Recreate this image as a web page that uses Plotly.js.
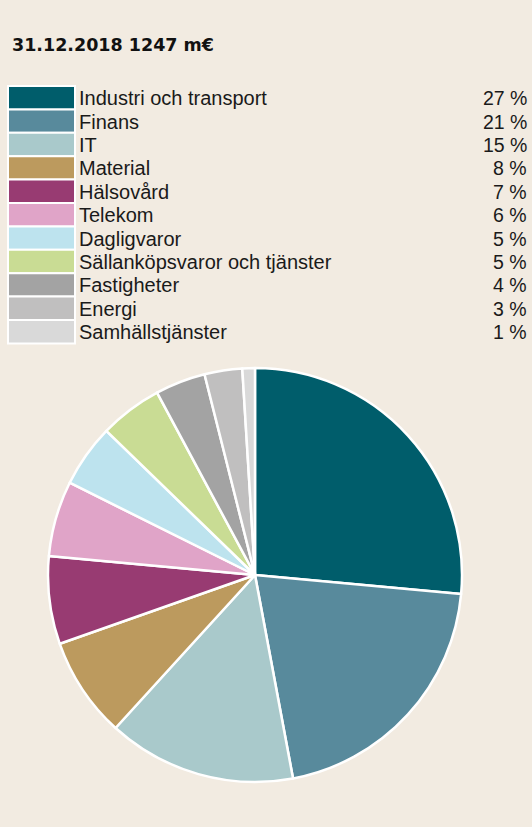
<!DOCTYPE html>
<html>
<head>
<meta charset="utf-8">
<script src="https://cdn.plot.ly/plotly-3.0.1.min.js"></script>
<style>html,body{margin:0;padding:0;background:#f2ebe1;}#chart{width:532px;height:827px;}</style>
</head>
<body>
<div id="chart"></div>
<script>
const titleText = "31.12.2018 1247 m€";
const categories = ["Industri och transport","Finans","IT","Material","Hälsovård","Telekom","Dagligvaror","Sällanköpsvaror och tjänster","Fastigheter","Energi","Samhällstjänster"];
const values = [27,21,15,8,7,6,5,5,4,3,1];
const valueLabels = ["27 %","21 %","15 %","8 %","7 %","6 %","5 %","5 %","4 %","3 %","1 %"];
const colors = ["#005d6b","#588a9c","#a9c9cb","#bc9a5e","#983b72","#e0a4c8","#bde3ee","#c9dc94","#a3a3a3","#c0bfbf","#d9d9d9"];

const W = 532, H = 827;
const px = x => x / W;
const py = y => 1 - y / H;
const font = "Liberation Sans, Arial, sans-serif";

const shapes = [];
const annotations = [];
const rowTop = 86, rowH = 23.4;
categories.forEach((c, i) => {
  const t = rowTop + i * rowH;
  shapes.push({type:"rect", xref:"paper", yref:"paper", x0:px(8), x1:px(75), y0:py(t), y1:py(t+rowH), fillcolor:colors[i], line:{color:"#ffffff", width:2}, layer:"above"});
  annotations.push({xref:"paper", yref:"paper", x:px(77), y:py(t+rowH/2+0.5), xanchor:"left", yanchor:"middle", text:c, showarrow:false, font:{family:font, size:20, color:"#1a1a1a"}});
  annotations.push({xref:"paper", yref:"paper", x:px(529), y:py(t+rowH/2+0.5), xanchor:"right", yanchor:"middle", text:valueLabels[i], showarrow:false, font:{family:font, size:19.5, color:"#1a1a1a"}});
});
annotations.push({xref:"paper", yref:"paper", x:px(10), y:py(45), xanchor:"left", yanchor:"middle", text:"<b>"+titleText+"</b>", showarrow:false, font:{family:"DejaVu Sans, sans-serif", size:17.5, color:"#111111"}});

const trace = {
  type:"pie", labels:categories, values:values, sort:false, direction:"clockwise", rotation:0,
  marker:{colors:colors, line:{color:"#ffffff", width:2.5}},
  textinfo:"none", hoverinfo:"label+percent", showlegend:false,
  domain:{x:[px(48), px(462)], y:[py(782), py(368)]}
};

Plotly.newPlot("chart", [trace], {
  width:W, height:H, margin:{l:0,r:0,t:0,b:0},
  paper_bgcolor:"#f2ebe1", plot_bgcolor:"#f2ebe1",
  showlegend:false, shapes:shapes, annotations:annotations
}, {displayModeBar:false, staticPlot:true});
</script>
</body>
</html>
